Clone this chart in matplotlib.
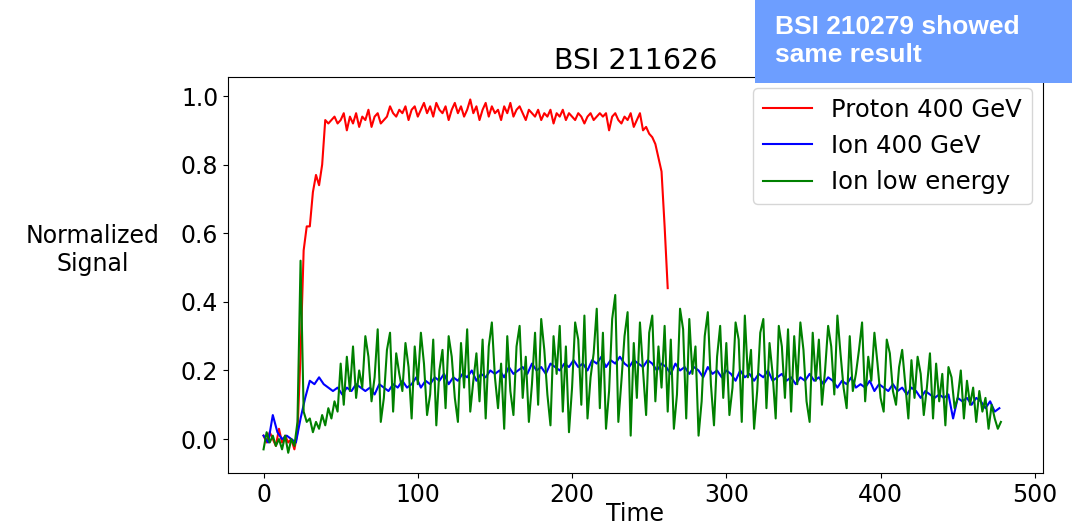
import numpy as np
import matplotlib
matplotlib.use("Agg")
import matplotlib.pyplot as plt
from matplotlib.patches import Rectangle

# Proton 400 GeV, sampled every 2 time units (t = 0 .. 262)
red = [0.01, -0.01, 0.02, 0.0, -0.02, 0.03, -0.01, 0.01, -0.01, 0.0, -0.03,
       0.02, 0.25, 0.55, 0.62, 0.62, 0.72, 0.77, 0.74, 0.80, 0.93, 0.92, 0.93,
       0.94, 0.92, 0.93, 0.95, 0.90, 0.94, 0.92, 0.95, 0.91, 0.94, 0.93, 0.96, 0.91, 0.94,
       0.95, 0.92, 0.93, 0.94, 0.97, 0.95, 0.94, 0.96, 0.95, 0.97, 0.93, 0.96, 0.97, 0.94,
       0.96, 0.98, 0.95, 0.97, 0.94, 0.98, 0.96, 0.95, 0.97, 0.93, 0.96, 0.98, 0.95, 0.97,
       0.94, 0.96, 0.99, 0.95, 0.97, 0.93, 0.96, 0.98, 0.94, 0.97, 0.95, 0.96, 0.93, 0.97,
       0.95, 0.98, 0.94, 0.96, 0.97, 0.95, 0.93, 0.96, 0.95, 0.94, 0.96, 0.93, 0.95, 0.94,
       0.96, 0.92, 0.95, 0.94, 0.96, 0.93, 0.95, 0.94,
       0.93, 0.95, 0.94, 0.92, 0.94, 0.95, 0.93, 0.94, 0.95, 0.94, 0.95, 0.90, 0.94, 0.95,
       0.93, 0.92, 0.94, 0.93, 0.95, 0.91, 0.93, 0.95, 0.90, 0.91, 0.89, 0.88, 0.86, 0.82,
       0.78, 0.62, 0.44]

# Ion 400 GeV, sampled every 3 time units (t = 0 .. 477)
blue = [0.01, -0.01, 0.07, 0.02, 0.0, 0.01, 0.0, -0.01,
        0.06, 0.12, 0.17, 0.16, 0.18, 0.16, 0.15, 0.14, 0.15, 0.13, 0.15,
        0.14, 0.16, 0.15, 0.14, 0.15, 0.13, 0.16, 0.15, 0.14, 0.16, 0.15, 0.17, 0.15, 0.16,
        0.18, 0.15, 0.17, 0.16, 0.18, 0.17, 0.19, 0.16, 0.18, 0.17, 0.19, 0.18, 0.20, 0.17,
        0.19, 0.18, 0.20, 0.19,
        0.20, 0.18, 0.21, 0.19, 0.20, 0.21, 0.19, 0.22, 0.20, 0.21, 0.19, 0.22, 0.21, 0.20,
        0.22, 0.21, 0.23, 0.21, 0.22, 0.20, 0.23, 0.22, 0.24, 0.21, 0.23, 0.22, 0.24, 0.22,
        0.21, 0.23, 0.22, 0.21, 0.23, 0.22,
        0.20, 0.22, 0.21, 0.19, 0.22, 0.20, 0.21, 0.19, 0.21, 0.20, 0.18, 0.21, 0.19, 0.20,
        0.18, 0.20, 0.19, 0.17, 0.20, 0.18, 0.19, 0.17, 0.19, 0.18, 0.20, 0.17, 0.18, 0.19,
        0.17, 0.18, 0.16, 0.18, 0.17,
        0.19, 0.17, 0.18, 0.16, 0.18, 0.17, 0.15, 0.17, 0.16, 0.18, 0.15, 0.16, 0.15, 0.17,
        0.14, 0.16, 0.15, 0.14, 0.16, 0.14, 0.15, 0.13, 0.15, 0.14, 0.12, 0.14, 0.13, 0.12,
        0.13, 0.12, 0.13, 0.06, 0.12, 0.11, 0.12, 0.10, 0.12, 0.11, 0.09, 0.11, 0.08, 0.09]

# Ion low energy, sampled every 2 time units (t = 0 .. 478)
green = [-0.03, 0.02, -0.01, 0.01, -0.02, 0.0, -0.03, 0.01, -0.04, 0.0, -0.02,
         0.05, 0.52,
         0.08, 0.05, 0.06, 0.02, 0.05, 0.03, 0.07, 0.04, 0.09, 0.06, 0.11, 0.08,
         0.22, 0.10, 0.24, 0.14, 0.27, 0.12,
         0.20, 0.15, 0.30, 0.24, 0.11, 0.18, 0.32, 0.05, 0.12, 0.26, 0.31, 0.08, 0.25, 0.19, 0.14, 0.28, 0.21, 0.06, 0.27, 0.16,
         0.31, 0.22, 0.07, 0.13, 0.29, 0.04, 0.20, 0.26, 0.09, 0.30, 0.24, 0.12, 0.05, 0.28, 0.15, 0.32, 0.08, 0.17, 0.25, 0.11,
         0.29, 0.06, 0.27, 0.34, 0.18, 0.09, 0.22, 0.03, 0.30, 0.14, 0.07, 0.27, 0.33, 0.12, 0.24, 0.05, 0.16, 0.31, 0.10, 0.35,
         0.26, 0.13, 0.04, 0.30, 0.19, 0.33, 0.08, 0.27, 0.02, 0.15, 0.34, 0.29, 0.10, 0.36, 0.06, 0.18, 0.25, 0.38, 0.09, 0.31,
         0.03, 0.14, 0.35, 0.42, 0.05, 0.17, 0.30, 0.37, 0.01, 0.28, 0.12, 0.34, 0.20, 0.07, 0.31, 0.36, 0.11, 0.27, 0.15, 0.33,
         0.08, 0.29, 0.03, 0.13, 0.38, 0.32, 0.06, 0.35, 0.19, 0.27, 0.01, 0.11, 0.30, 0.37, 0.16, 0.04, 0.24, 0.33, 0.12, 0.28,
         0.07, 0.15, 0.34, 0.29, 0.05, 0.36, 0.18, 0.26, 0.03, 0.14, 0.31, 0.35, 0.09, 0.28, 0.19, 0.06, 0.33, 0.27, 0.12, 0.32,
         0.08, 0.30, 0.16, 0.34, 0.26, 0.11, 0.05, 0.31, 0.17, 0.29, 0.10, 0.20, 0.33, 0.27, 0.13, 0.36, 0.25, 0.15, 0.09, 0.30,
         0.14, 0.19, 0.26, 0.34, 0.11, 0.24, 0.17, 0.31, 0.22, 0.12, 0.08, 0.29, 0.25, 0.14, 0.10, 0.21, 0.26, 0.16, 0.06, 0.23,
         0.12, 0.24, 0.19, 0.07, 0.15, 0.25, 0.06, 0.22, 0.11, 0.19, 0.04, 0.21, 0.18, 0.09, 0.12, 0.20, 0.06, 0.17, 0.10, 0.15,
         0.05, 0.14, 0.08, 0.12, 0.03, 0.10, 0.06, 0.03, 0.05]

labels = ["Proton 400 GeV", "Ion 400 GeV", "Ion low energy"]

t_red = np.arange(len(red)) * 2
t_blue = np.arange(len(blue)) * 3
t_green = np.arange(len(green)) * 2

fig = plt.figure(figsize=(10.86, 5.25), dpi=100)
ax = fig.add_axes([0.21, 0.099, 0.75, 0.754])

ax.plot(t_red, red, color="red", lw=1.5, label=labels[0])
ax.plot(t_blue, blue, color="blue", lw=1.5, label=labels[1])
ax.plot(t_green, green, color="green", lw=1.5, label=labels[2])

ax.set_xlim(-23, 505)
ax.set_ylim(-0.099, 1.055)
ax.set_xticks([0, 100, 200, 300, 400, 500])
ax.set_yticks([0.0, 0.2, 0.4, 0.6, 0.8, 1.0])
ax.tick_params(labelsize=17)

ax.set_title("BSI 211626", fontsize=20.5)
ax.set_xlabel("Time", fontsize=17, labelpad=-3.5)
ax.set_ylabel("Normalized\nSignal", fontsize=17, rotation=0, ha="center", va="center")
ax.yaxis.set_label_coords(-0.166, 0.563)

ax.legend(loc="upper right", fontsize=17.5, borderaxespad=0.45, handlelength=2.0)

# note box in the top right corner
fig.patches.append(Rectangle((755 / 1086, 1 - 83 / 525), 317 / 1086, 83 / 525,
                             transform=fig.transFigure, facecolor="#6d9eff",
                             edgecolor="none", zorder=5))
fig.text(775 / 1086, 1 - 41 / 525, "BSI 210279 showed\nsame result",
         family="Liberation Sans", weight="bold", fontsize=19, color="white",
         ha="left", va="center", linespacing=1.25, zorder=6)

fig.savefig("out.png", dpi=100)
